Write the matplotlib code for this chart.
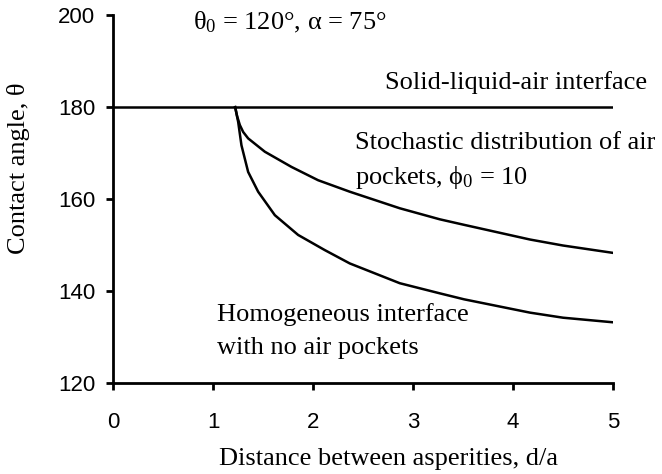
import matplotlib
matplotlib.use('Agg')
import matplotlib.pyplot as plt

plt.rcParams['mathtext.fontset'] = 'custom'
plt.rcParams['mathtext.rm'] = 'Liberation Serif'
plt.rcParams['mathtext.it'] = 'Liberation Serif:italic'

# distance between asperities d/a vs contact angle (deg)
air_x = [0.0, 5.0]
air_y = [180, 180]

stoch_x = [1.22, 1.24, 1.267, 1.30, 1.35, 1.517, 1.783, 2.05, 2.367, 2.867, 3.267, 3.51,
           4.17, 4.5, 5.0]
stoch_y = [180, 178.0, 176.1, 174.6, 173.2, 170.3, 167.0, 164.1, 161.6, 158.0, 155.6, 154.4,
           151.2, 149.9, 148.3]

homog_x = [1.22, 1.25, 1.283, 1.35, 1.45, 1.617, 1.85, 2.117, 2.367, 2.867, 3.267,
           3.51, 4.17, 4.5, 5.0]
homog_y = [180, 176.8, 171.7, 165.9, 161.6, 156.5, 152.2, 148.9, 146.0, 141.7, 139.5,
           138.2, 135.3, 134.2, 133.2]

xticks = [0, 1, 2, 3, 4, 5]
yticks = [120, 140, 160, 180, 200]

fig = plt.figure(figsize=(6.62, 4.74), dpi=100)
ax = fig.add_axes([0.171, 0.192, 0.755, 0.776])

ax.plot(air_x, air_y, color='black', lw=1.8)
ax.plot(stoch_x, stoch_y, color='black', lw=1.8)
ax.plot(homog_x, homog_y, color='black', lw=1.8)

ax.set_xlim(0, 5)
ax.set_ylim(120, 200)
ax.set_xticks(xticks)
ax.set_yticks(yticks)
for s in ['top', 'right']:
    ax.spines[s].set_visible(False)
for s in ['left', 'bottom']:
    ax.spines[s].set_linewidth(2)
ax.tick_params(direction='out', length=5, width=2, labelsize=16)
ax.tick_params(axis='y', pad=8)
ax.tick_params(axis='x', pad=16)
for lab in ax.get_xticklabels() + ax.get_yticklabels():
    lab.set_family('Liberation Sans')

serif = dict(family='Liberation Serif', fontsize=19)
ax.set_xlabel('Distance between asperities, d/a', **serif)
ax.set_ylabel('Contact angle, θ', **serif)
ax.xaxis.set_label_coords(0.55, -0.176)
ax.yaxis.set_label_coords(-0.167, 0.583)

ax.text(0.80, 198.5, 'θ$_0$ = 120°, α = 75°', va='center', **serif)
ax.text(2.72, 185.4, 'Solid-liquid-air interface', va='center', **serif)
ax.text(2.42, 172.2, 'Stochastic distribution of air', va='center', **serif)
ax.text(2.42, 164.8, 'pockets, ϕ$_0$ = 10', va='center', **serif)
ax.text(1.04, 135.0, 'Homogeneous interface', va='center', **serif)
ax.text(1.04, 127.6, 'with no air pockets', va='center', **serif)

fig.savefig('out.png', dpi=100)
